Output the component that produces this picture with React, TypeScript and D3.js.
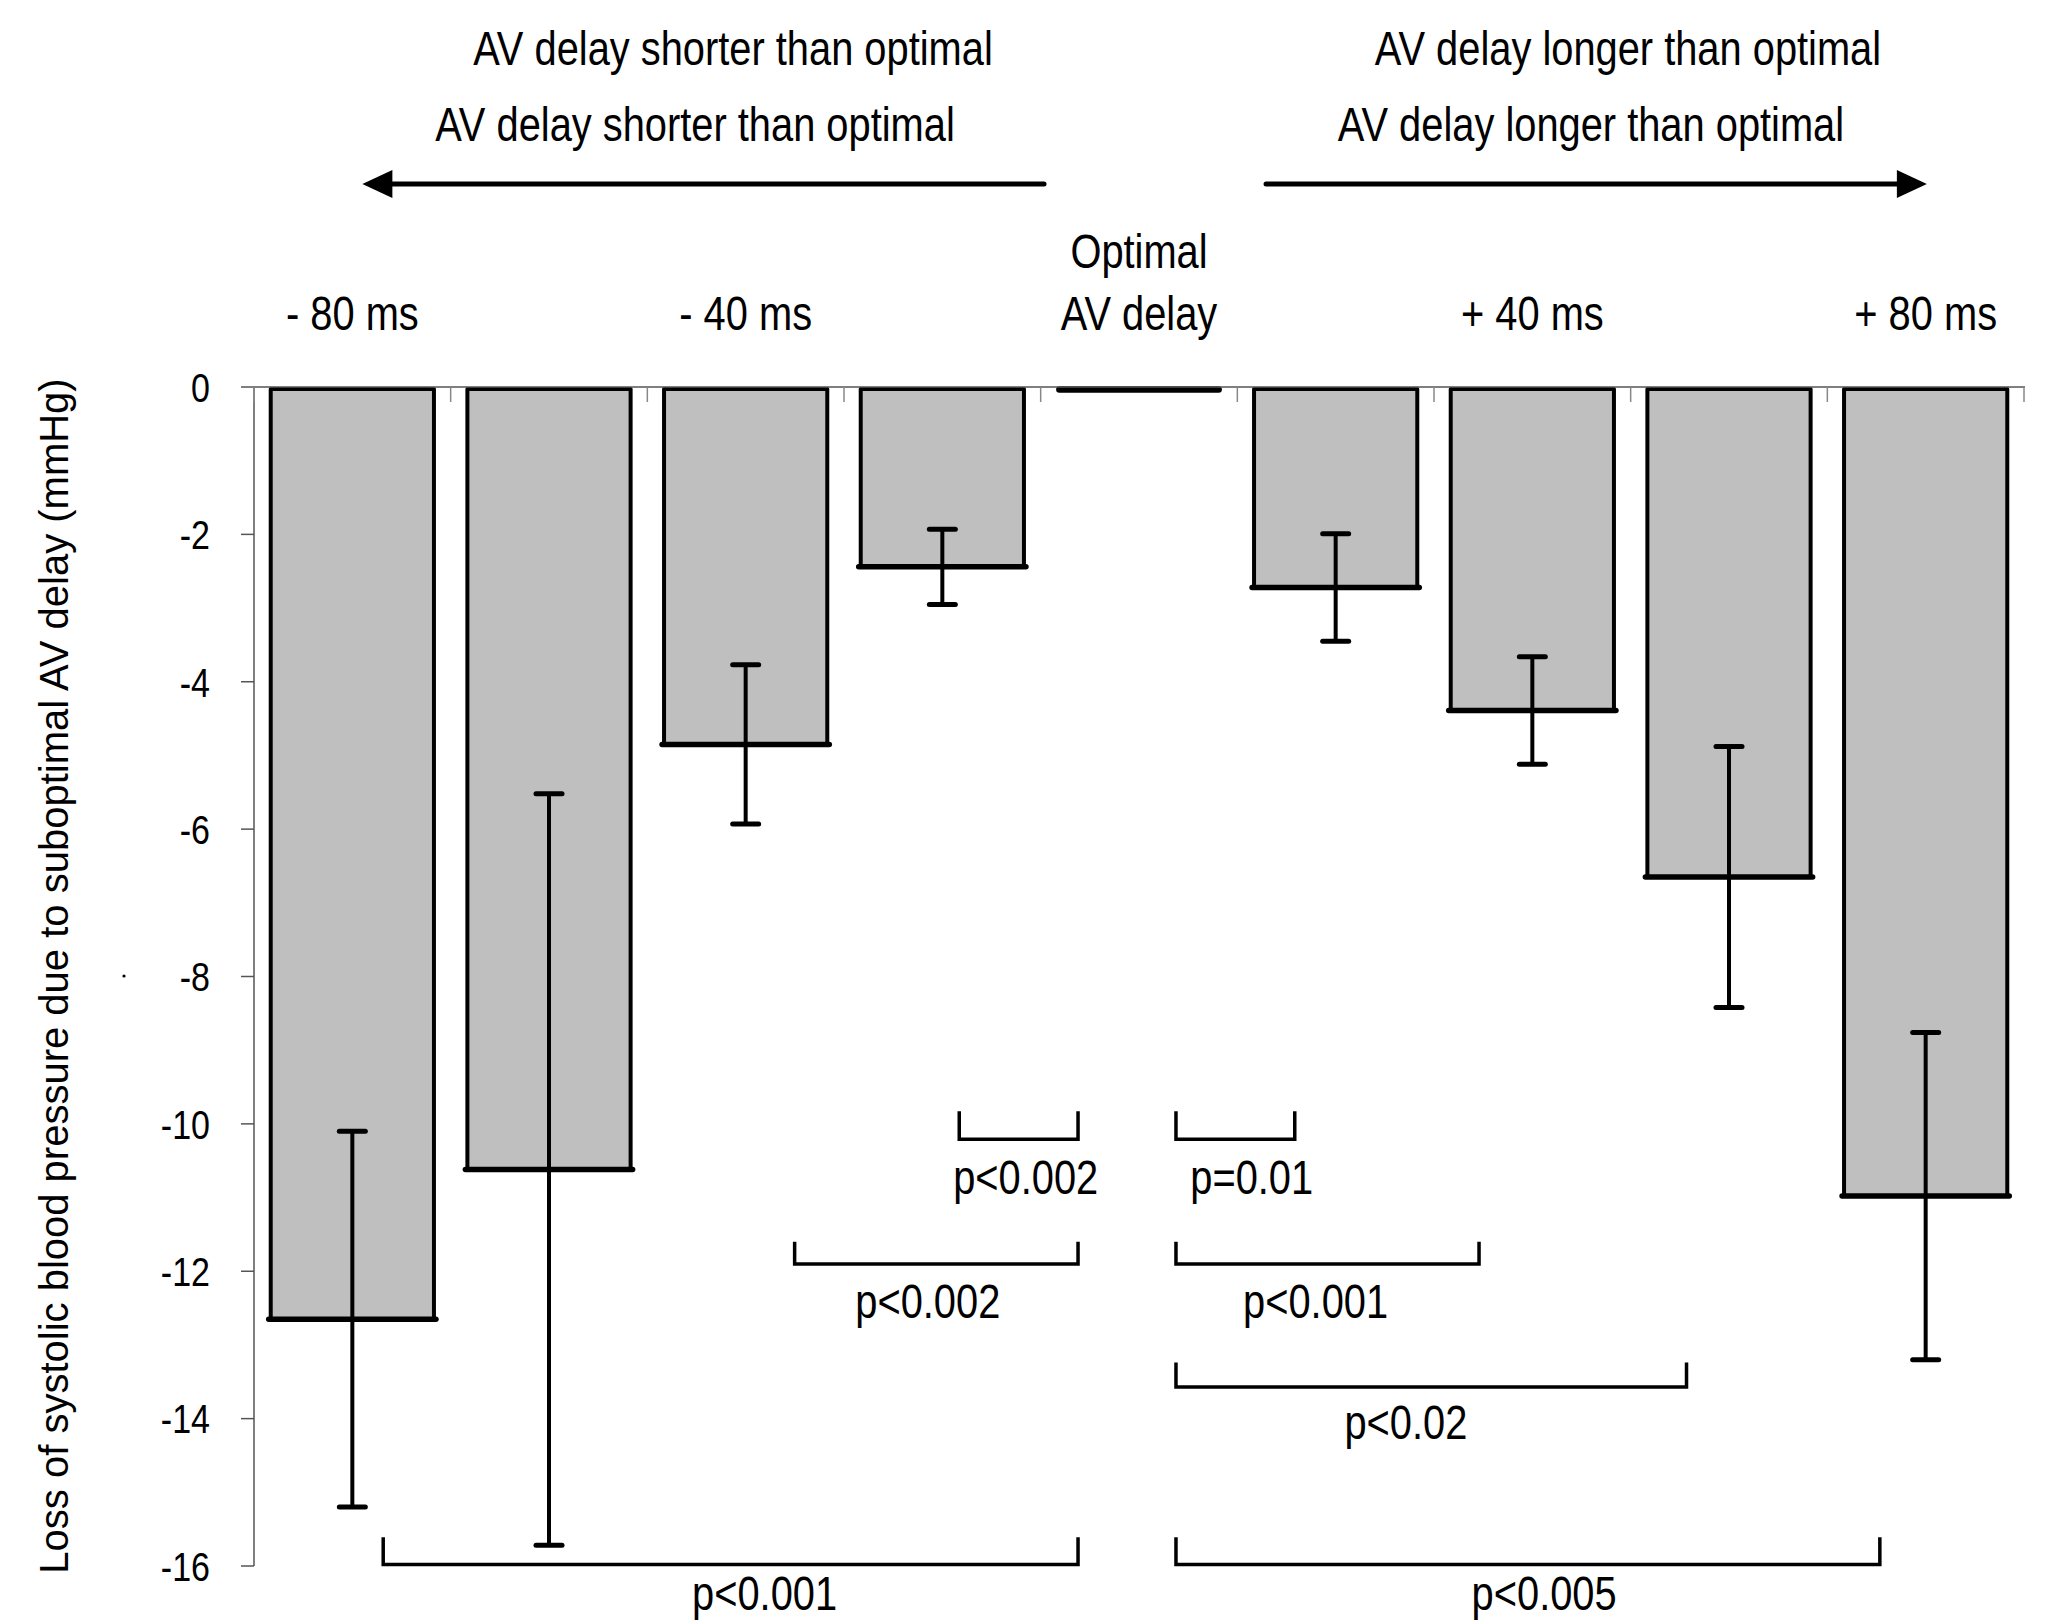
import React, { useEffect } from "react";
import * as d3 from "d3";

const categories = ["-80", "-60", "-40", "-20", "0", "+20", "+40", "+60", "+80"];
const categoryLabels: string[][] = [["- 80 ms"], [], ["- 40 ms"], [], ["Optimal", "AV delay"], [], ["+ 40 ms"], [], ["+ 80 ms"]];
const meanLoss = [-12.65, -10.62, -4.85, -2.44, 0, -2.72, -4.39, -6.65, -10.98];
const sdLoss = [2.55, 5.1, 1.08, 0.51, 0, 0.73, 0.73, 1.77, 2.22];
const yTicks = [0, -2, -4, -6, -8, -10, -12, -14, -16];
const yTickLabels = ["0", "-2", "-4", "-6", "-8", "-10", "-12", "-14", "-16"];
const yLabel = "Loss of systolic blood pressure due to suboptimal AV delay (mmHg)";
const shorterTitle = "AV delay shorter than optimal";
const longerTitle = "AV delay longer than optimal";

// significance brackets: positions in category units (0..9) and value units
const bracketX1 = [3.586, 2.749, 0.657, 4.688, 4.688, 4.688, 4.688];
const bracketX2 = [4.19, 4.19, 4.19, 5.292, 6.229, 7.284, 8.267];
const bracketTop = [-9.83, -11.6, -15.61, -9.83, -11.6, -13.24, -15.61];
const bracketBottom = [-10.21, -11.9, -15.98, -10.21, -11.9, -13.57, -15.98];
const bracketLabels = ["p<0.002", "p<0.002", "p<0.001", "p=0.01", "p<0.001", "p<0.02", "p<0.005"];
const bracketLabelX = [3.924, 3.426, 2.596, 5.073, 5.398, 5.857, 6.56];
const bracketLabelY = [-10.95, -12.63, -16.6, -10.95, -12.63, -14.28, -16.6];

const W = 2046;
const H = 1623;
const FONT = "'Liberation Sans', Arial, Helvetica, sans-serif";
const SX = 0.83;

function NText(props: { x: number; y: number; size: number; anchor?: string; dy?: string; children: React.ReactNode }) {
  const { x, y, size, anchor = "middle", dy, children } = props;
  return (
    <text
      transform={`translate(${x},${y}) scale(${SX},1)`}
      dy={dy}
      textAnchor={anchor}
      fontFamily={FONT}
      fontSize={size}
      fill="#000"
    >
      {children}
    </text>
  );
}

export default function App() {
  useEffect(() => {
    document.body.style.margin = "0";
  }, []);

  const x = d3.scaleBand<string>().domain(categories).range([254, 2024]).paddingInner(0.17).paddingOuter(0.085);
  const xu = d3.scaleLinear().domain([0, categories.length]).range([254, 2024]);
  const y = d3.scaleLinear().domain([0, -16]).range([387, 1566]);
  const bw = x.bandwidth();
  const arrowY = 184;

  return (
    <svg width={W} height={H} viewBox={`0 0 ${W} ${H}`} style={{ display: "block", background: "#fff" }}>
      <rect width={W} height={H} fill="#fff" />
      {/* titles */}
      <NText x={733} y={65} size={48}>{shorterTitle}</NText>
      <NText x={695} y={141} size={48}>{shorterTitle}</NText>
      <NText x={1628} y={65} size={48}>{longerTitle}</NText>
      <NText x={1591} y={141} size={48}>{longerTitle}</NText>
      {/* arrows */}
      <line x1={xu(0.551) + 26} x2={xu(4.017)} y1={arrowY} y2={arrowY} stroke="#000" strokeWidth={5} strokeLinecap="round" />
      <path d={`M${xu(0.551)},${arrowY} L${xu(0.551) + 30},${arrowY - 14} L${xu(0.551) + 30},${arrowY + 14} Z`} fill="#000" />
      <line x1={xu(5.146)} x2={xu(8.506) - 26} y1={arrowY} y2={arrowY} stroke="#000" strokeWidth={5} strokeLinecap="round" />
      <path d={`M${xu(8.506)},${arrowY} L${xu(8.506) - 30},${arrowY - 14} L${xu(8.506) - 30},${arrowY + 14} Z`} fill="#000" />

      {/* category labels */}
      {categories.map((c, i) => {
        const lines = categoryLabels[i];
        const cx = (x(c) as number) + bw / 2;
        return lines.map((l, j) => (
          <NText key={c + j} x={cx} y={330 - (lines.length - 1 - j) * 62} size={48}>{l}</NText>
        ));
      })}

      {/* y axis */}
      <line x1={254} x2={254} y1={y(0)} y2={y(-16)} stroke="#555" strokeWidth={1.5} />
      {yTicks.map((t, i) => (
        <g key={t}>
          <line x1={241} x2={254} y1={y(t)} y2={y(t)} stroke="#555" strokeWidth={1.5} />
          <NText x={210} y={y(t)} dy="0.36em" anchor="end" size={41}>{yTickLabels[i]}</NText>
        </g>
      ))}
      <text transform={`translate(68,976) rotate(-90)`} textAnchor="middle" fontFamily={FONT} fontSize={40} fill="#000">{yLabel}</text>
      <circle cx={124} cy={976} r={1.6} fill="#000" />

      {/* bars */}
      {categories.map((c, i) => {
        const bx = x(c) as number;
        const v = meanLoss[i];
        const top = y(0);
        const bot = y(v);
        if (v === 0) {
          return <line key={c} x1={bx + 2} x2={bx + bw - 2} y1={top + 2.5} y2={top + 2.5} stroke="#000" strokeWidth={6.5} strokeLinecap="round" />;
        }
        return (
          <g key={c}>
            <rect x={bx} y={top + 2} width={bw} height={bot - top - 2} fill="#bfbfbf" stroke="#000" strokeWidth={4} strokeLinejoin="round" />
            <line x1={bx - 2} x2={bx + bw + 2} y1={bot} y2={bot} stroke="#000" strokeWidth={5.5} strokeLinecap="round" />
          </g>
        );
      })}

      {/* zero line with band ticks */}
      <line x1={254} x2={2025} y1={y(0)} y2={y(0)} stroke="#555" strokeWidth={1.5} />
      {d3.range(categories.length + 1).map((k) => (
        <line key={k} x1={xu(k)} x2={xu(k)} y1={y(0)} y2={y(0) + 15} stroke="#888" strokeWidth={1.5} />
      ))}

      {/* error bars */}
      {categories.map((c, i) => {
        if (sdLoss[i] === 0) return null;
        const cx = (x(c) as number) + bw / 2;
        const hi = y(meanLoss[i] + sdLoss[i]);
        const lo = y(meanLoss[i] - sdLoss[i]);
        return (
          <g key={c} stroke="#000">
            <line x1={cx} x2={cx} y1={hi} y2={lo} strokeWidth={4} />
            <line x1={cx - 13} x2={cx + 13} y1={hi} y2={hi} strokeWidth={5} strokeLinecap="round" />
            <line x1={cx - 13} x2={cx + 13} y1={lo} y2={lo} strokeWidth={5} strokeLinecap="round" />
          </g>
        );
      })}

      {/* significance brackets */}
      {bracketLabels.map((lab, i) => {
        const x1 = xu(bracketX1[i]);
        const x2 = xu(bracketX2[i]);
        const t = y(bracketTop[i]);
        const b = y(bracketBottom[i]);
        return (
          <g key={i}>
            <path d={`M${x1},${t} L${x1},${b} L${x2},${b} L${x2},${t}`} fill="none" stroke="#000" strokeWidth={3.5} />
            <NText x={xu(bracketLabelX[i])} y={y(bracketLabelY[i])} size={48}>{lab}</NText>
          </g>
        );
      })}
    </svg>
  );
}
